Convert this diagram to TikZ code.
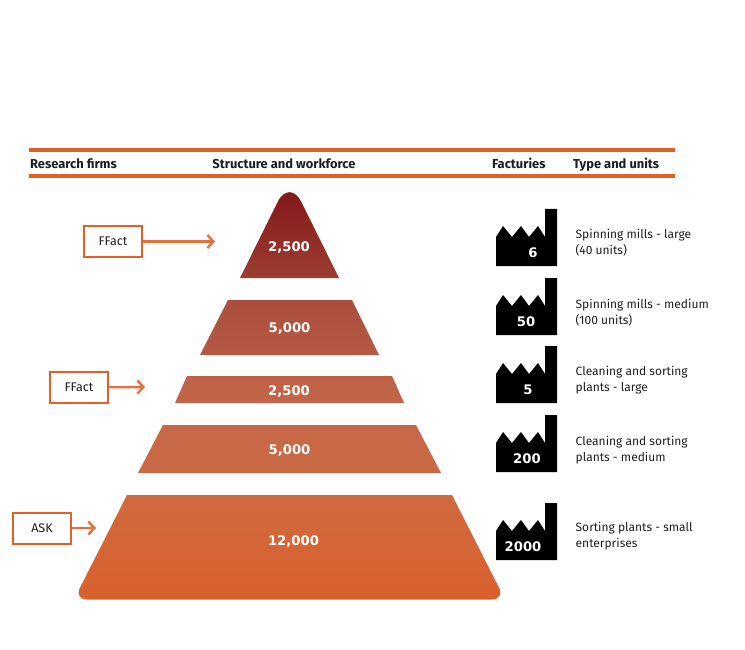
\documentclass[tikz,border=0pt]{standalone}
\usepackage{fontspec}
\setmainfont{Fira Sans}
\newfontfamily\numfont{DejaVu Sans}
\usetikzlibrary{arrows.meta,positioning}
\definecolor{ilorange}{RGB}{222,98,40}
\definecolor{ilgray}{RGB}{30,30,30}

\begin{document}
\begin{tikzpicture}[
		x=1pt, y=-1pt,
		font=\fontsize{12}{16}\selectfont,
		rulebar/.style={draw=ilorange, line width=3.5pt},
		headtext/.style={font=\fontsize{12.9}{16}\selectfont\bfseries, text=ilgray, inner sep=0pt},
		firm/.style={
			draw=ilorange, fill=white, line width=2pt, inner sep=0pt,
			minimum width=58pt, minimum height=31pt, text=ilgray,
			font=\fontsize{12.5}{16}\selectfont
		},
		arr/.style={-{Straight Barb[length=6pt,width=13pt,line width=2.4pt]}, line width=2.4pt, ilorange!90!white},
		count/.style={text=white, inner sep=0pt, font=\numfont\fontsize{13.2}{16}\selectfont\bfseries},
		kind/.style={align=left, anchor=west, text=ilgray, inner sep=0pt, font=\fontsize{12}{16}\selectfont},
		pics/factory/.style={code={
			\fill[black] (0,57) -- (0,28) -- (7,17) -- (16,28) -- (25,17) -- (33,28)
				-- (42,17) -- (49,28) -- (49,0) -- (61,0) -- (61,57) -- cycle;
		}}
		]
		\useasboundingbox (0,0) rectangle (745,650);

		\coordinate (ruleL1) at (29,150);
		\coordinate (ruleR1) at (675,150);
		\coordinate (ruleL2) at (29,176);
		\coordinate (ruleR2) at (675,176);
		\draw[rulebar] (ruleL1) -- (ruleR1);
		\draw[rulebar] (ruleL2) -- (ruleR2);

		\node[headtext, anchor=base west] (firms) at (30,168.7) {Research firms};
		\node[headtext, anchor=base] (structure) at (284,168.7) {Structure and workforce};
		\node[headtext, anchor=base west] (factories) at (492,168.7) {Facturies};
		\node[headtext, anchor=base west] (types) at (573,168.7) {Type and units};

		% the five slabs
		\shade[top color={rgb,255:red,128;green,18;blue,22}, bottom color={rgb,255:red,156;green,62;blue,50}]
			(240,278) [rounded corners=27pt] -- (289.5,178) [sharp corners] -- (339,278) -- cycle;
		\shade[top color={rgb,255:red,170;green,78;blue,60}, bottom color={rgb,255:red,183;green,90;blue,68}]
			(228,300) -- (352,300) -- (379,355) -- (200,355) -- cycle;
		\shade[top color={rgb,255:red,190;green,97;blue,72}, bottom color={rgb,255:red,194;green,102;blue,74}]
			(187,376) -- (392,376) -- (404,403) -- (175,403) -- cycle;
		\shade[top color={rgb,255:red,198;green,104;blue,72}, bottom color={rgb,255:red,202;green,105;blue,68}]
			(163,425) -- (416,425) -- (441,473) -- (138,473) -- cycle;
		\shade[top color={rgb,255:red,207;green,106;blue,62}, bottom color={rgb,255:red,218;green,96;blue,45}]
			(127,495) -- (452,495) [rounded corners=13pt] -- (505,599.5) -- (74,599.5) [sharp corners] -- cycle;

		\node[count] (workA) at (289,247.5) {2,500};
		\node[count] (workB) at (289.5,328.5) {5,000};
		\node[count] (workC) at (289,391.5) {2,500};
		\node[count] (workD) at (289.5,450.5) {5,000};
		\node[count] (workE) at (293.5,541.5) {12,000};

		% research firms
		\node[firm] (ffactA) at (113,241.5) {FFact};
		\node[firm] (ffactB) at (79,387.5) {FFact};
		\node[firm] (ask) at (42,528) {ASK};
		\coordinate (ffactAend) at (215,241.5);
		\coordinate (ffactBend) at (145,387);
		\coordinate (askend) at (96,528);
		\draw[arr] (ffactA) -- (ffactAend);
		\draw[arr] (ffactB) -- (ffactBend);
		\draw[arr] (ask) -- (askend);

		% factories
		\foreach \y/\num/\tx in {209/6/533, 278/50/526, 346/5/528, 415/200/527, 503/2000/523}{
			\pic at (496,\y) {factory};
			\node[count] (fac\num) at (\tx,\y+43.5) {\num};
		}

		\node[kind] (typeA) at (575.5,242.5) {Spinning mills - large\\(40 units)};
		\node[kind] (typeB) at (575.5,312.5) {Spinning mills - medium\\(100 units)};
		\node[kind] (typeC) at (575.5,380.5) {Cleaning and sorting\\plants - large};
		\node[kind] (typeD) at (575.5,450.5) {Cleaning and sorting\\plants - medium};
		\node[kind] (typeE) at (575.5,536.5) {Sorting plants - small\\enterprises};
	\end{tikzpicture}
\end{document}
